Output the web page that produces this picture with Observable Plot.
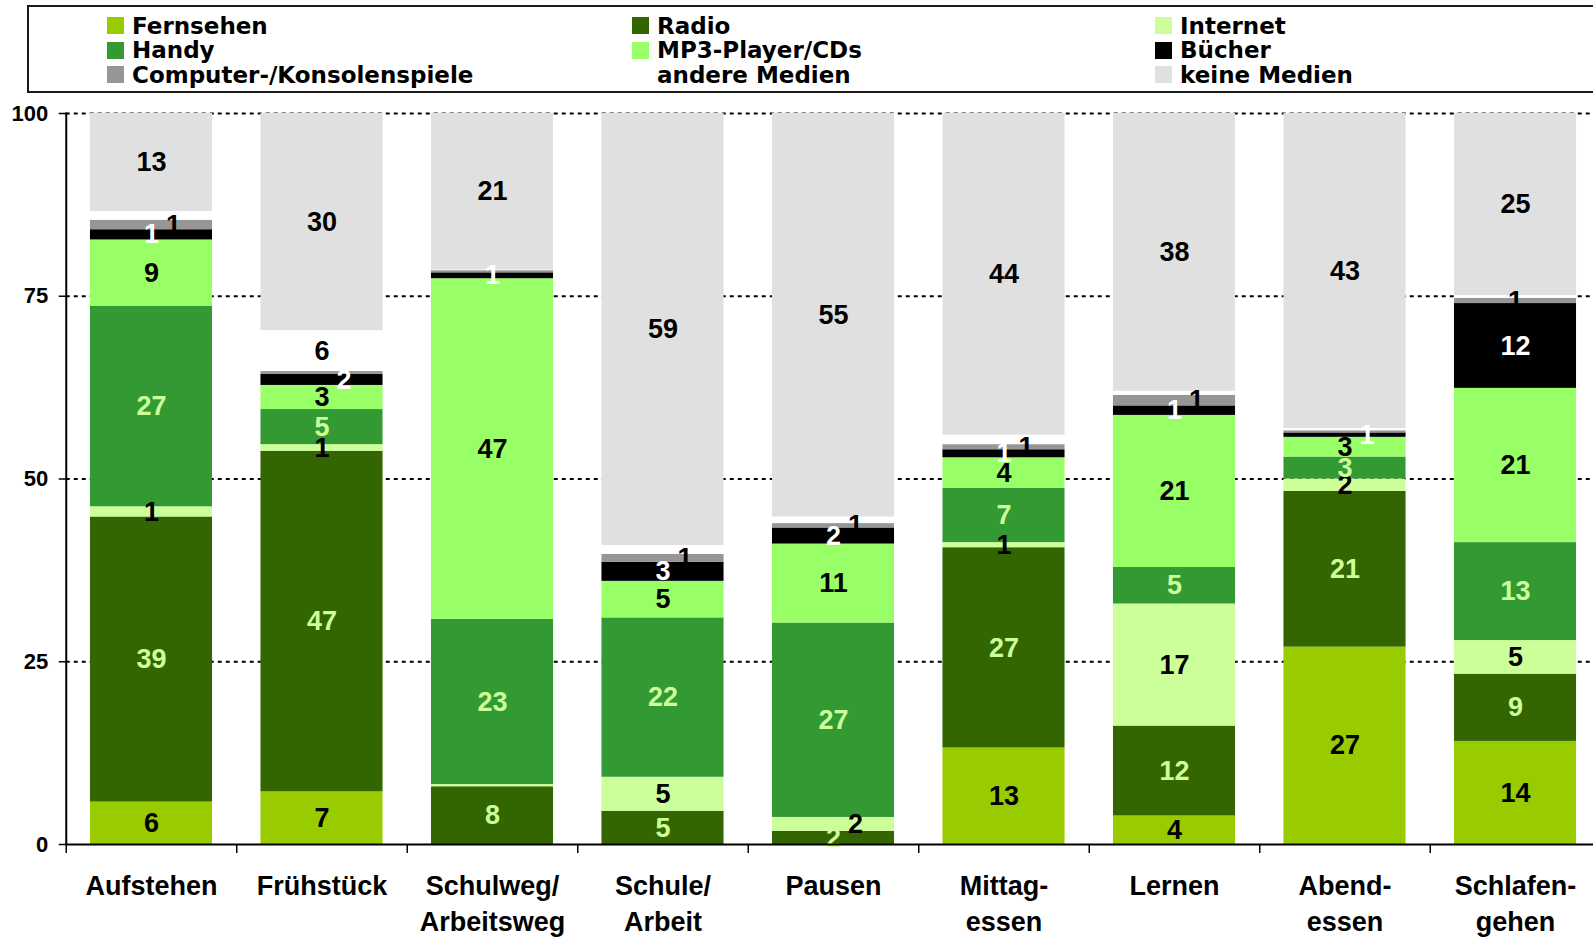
<!DOCTYPE html>
<html><head><meta charset="utf-8">
<script src="https://cdn.jsdelivr.net/npm/d3@7"></script>
<script src="https://cdn.jsdelivr.net/npm/@observablehq/plot@0.6"></script>
<style>
body{margin:0;background:#fff;overflow:hidden}
#legend{position:relative;width:1593px;height:95px;overflow:hidden}
#legend .box{position:absolute;left:27px;top:5px;width:1600px;height:84px;border:2px solid #1a1a1a}
.item{position:absolute;font-family:"DejaVu Sans",sans-serif;font-weight:bold;font-size:23px;line-height:24px;white-space:nowrap;color:#000}
.sw{position:absolute;width:17px;height:17px}
#chart svg{display:block}
</style></head><body>
<div id="legend"><div class="box"></div></div>
<div id="chart"></div>
<script>
// ---- data (percent) ----
const categories = ["Aufstehen", "Frühstück", "Schulweg/Arbeitsweg", "Schule/Arbeit", "Pausen", "Mittagessen", "Lernen", "Abendessen", "Schlafengehen"];
const tickLabels = ["Aufstehen", "Frühstück", "Schulweg/\nArbeitsweg", "Schule/\nArbeit", "Pausen", "Mittag-\nessen", "Lernen", "Abend-\nessen", "Schlafen-\ngehen"];
const seriesNames = ["Fernsehen", "Radio", "Internet", "Handy", "MP3-Player/CDs", "Bücher", "Computer-/Konsolenspiele", "andere Medien", "keine Medien"];
const fernsehen = [5.8, 7.2, 0, 0, 0, 13.2, 3.9, 27.0, 14.1];
const radio     = [39.0, 46.6, 7.9, 4.55, 1.8, 27.4, 12.3, 21.3, 9.2];
const internet  = [1.4, 0.9, 0.3, 4.65, 1.9, 0.7, 16.7, 1.7, 4.6];
const handy     = [27.4, 4.8, 22.6, 21.8, 26.6, 7.4, 5.0, 3.0, 13.4];
const mp3       = [9.1, 3.3, 46.6, 5.0, 10.8, 4.2, 20.8, 2.7, 21.1];
const buecher   = [1.4, 1.5, 0.8, 2.6, 2.2, 1.1, 1.3, 0.6, 11.6];
const computer  = [1.3, 0.4, 0.3, 1.1, 0.6, 0.7, 1.45, 0.3, 0.7];
const andere    = [1.2, 5.6, 0.1, 1.2, 0.9, 1.3, 0.55, 0.3, 0.4];
const keine     = [13.4, 29.7, 21.4, 59.1, 55.2, 44.0, 38.0, 43.1, 24.9];
const yTicks = [0, 25, 50, 75, 100];

// ---- styles ----
const seriesValues = [fernsehen, radio, internet, handy, mp3, buecher, computer, andere, keine];
const colors = ["#99CC00", "#336600", "#CCFF99", "#339933", "#99FF66", "#000000", "#969696", "#FFFFFF", "#E0E0E0"];
const labelColors = ["#000", "#CCFF99", "#000", "#CCFF99", "#000", "#FFF", "#000", "#000", "#000"];

// legend (HTML, above the svg)
const legend = document.getElementById("legend");
const colX = [107, 632, 1155], rowY = [25.5, 50, 74.5];
seriesNames.forEach((s, i) => {
  const c = i % 3, r = Math.floor(i / 3);
  const sw = document.createElement("div");
  sw.className = "sw"; sw.style.left = colX[c] + "px"; sw.style.top = (rowY[r] - 8.5) + "px";
  sw.style.background = colors[i];
  legend.appendChild(sw);
  const t = document.createElement("div");
  t.className = "item"; t.textContent = s;
  t.style.left = (colX[c] + 25) + "px"; t.style.top = (rowY[r] - 12) + "px";
  legend.appendChild(t);
});

// chart
const W = 1593, H = 843, mL = 65.75, mR = -7.25, mT = 18, mB = 94;
const pxPerUnit = (H - mT - mB) / 100;
const step = (W - mL - mR) / categories.length;

const long = [];
categories.forEach((c, i) => {
  let acc = 0;
  seriesNames.forEach((s, j) => {
    const v = seriesValues[j][i];
    long.push({cat: c, series: s, j, value: v, y0: acc, y1: acc + v, mid: acc + v / 2});
    acc += v;
  });
});

// value labels; a thin segment whose label would collide with the one below is nudged right
const labels = [];
categories.forEach(c => {
  let prev = null;
  long.filter(d => d.cat === c).forEach(d => {
    const r = Math.round(d.value);
    if (r < 1) return;
    if (d.series === "andere Medien" && d.value < 2) return;
    const shift = !!(prev && !prev.shift && d.value < 2 && (d.mid - prev.mid) * pxPerUnit < 18);
    const L = {...d, label: String(r), shift};
    labels.push(L); prev = L;
  });
});

const textMarks = [];
seriesNames.forEach((s, j) => {
  [false, true].forEach(sh => {
    textMarks.push(Plot.text(labels.filter(d => d.j === j && d.shift === sh), {
      x: "cat", y: "mid", text: "label", fill: labelColors[j],
      fontSize: 27, fontWeight: "bold", dx: sh ? 22 : 0
    }));
  });
});

const chart = Plot.plot({
  width: W, height: H,
  marginLeft: mL, marginRight: mR, marginTop: mT, marginBottom: mB,
  style: {fontFamily: "'Liberation Sans', Arial, sans-serif", background: "#fff", color: "#000"},
  x: {domain: categories, paddingInner: 0.284, paddingOuter: 0.142, round: false, label: null},
  y: {domain: [0, 100], label: null},
  color: {domain: seriesNames, range: colors},
  marks: [
    Plot.ruleY(yTicks.filter(d => d > 0), {stroke: "#000", strokeWidth: 2, strokeDasharray: "4,4"}),
    Plot.barY(long, {x: "cat", y1: "y0", y2: "y1", fill: "series"}),
    ...textMarks,
    Plot.frame({anchor: "left", stroke: "#000", strokeWidth: 2}),
    Plot.ruleY([0], {stroke: "#000", strokeWidth: 2}),
    Plot.axisY({ticks: yTicks, tickSize: 7, tickPadding: 11, fontSize: 22, fontWeight: "bold", label: null, strokeWidth: 1.5, tickFormat: d => String(d)}),
    Plot.axisX({tickSize: 9, tickFormat: () => "", dx: -step / 2, strokeWidth: 1.5, label: null}),
    Plot.axisX({tickSize: 0, tickPadding: 26, fontSize: 27, fontWeight: "bold", lineHeight: 1.3, label: null,
      tickFormat: d => tickLabels[categories.indexOf(d)]})
  ]
});
document.getElementById("chart").appendChild(chart);
</script>
</body></html>
